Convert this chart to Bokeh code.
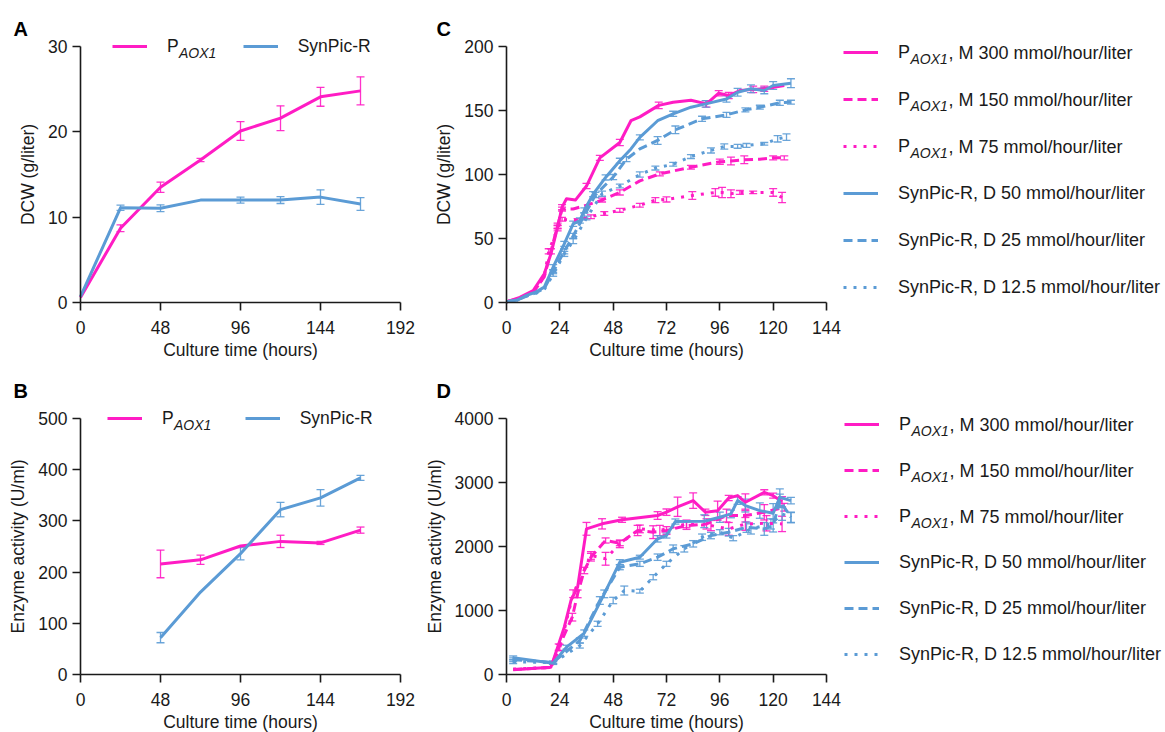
from bokeh.plotting import figure
from bokeh.models import (Range1d, Legend, LegendItem, Label, Whisker, TeeHead,
                          ColumnDataSource, FixedTicker)
from bokeh.layouts import row, column
from bokeh.embed import file_html
from bokeh.resources import INLINE

# ---------------- data ----------------
A_t = [0, 24, 48, 72, 96, 120, 144, 168]
A_paox1 = [0.6, 8.7, 13.5, 16.7, 20.1, 21.6, 24.1, 24.8]
A_paox1_err = [0, 0.4, 0.6, 0.2, 1.1, 1.45, 1.1, 1.65]
A_synpic = [0.7, 11.1, 11.05, 12.0, 12.0, 12.0, 12.35, 11.55]
A_synpic_err = [0, 0.3, 0.4, 0, 0.35, 0.4, 0.85, 0.75]

B_t = [48, 72, 96, 120, 144, 168]
B_paox1 = [216, 224, 251, 260, 257, 282]
B_paox1_err = [27, 9, 0, 12, 3, 6]
B_synpic = [72, 161, 236, 322, 345, 384]
B_synpic_err = [10, 0, 12, 14, 16, 5]

C_t_M300 = [0, 6, 12, 17, 20, 23, 25, 27, 31, 36, 42, 51, 56, 60, 68.5, 75, 83, 90, 95.5, 100, 105, 111, 116, 125]
C_M300 = [0.5, 4, 9.4, 22.4, 38, 59, 74.5, 81, 80, 91, 113, 125, 142, 145, 154, 156.5, 158, 155.2, 163.5, 161.7, 165.6, 166.5, 167, 169.5]
C_M300_err = [0, 0, 0, 0, 0, 1.5, 2, 0, 0, 2, 2, 2.5, 0, 0, 2.5, 0, 0, 2.5, 2, 2.5, 0, 2.5, 2, 0]

C_t_M150 = [0, 6, 12, 17, 20, 23, 25, 30, 36, 43, 51, 60, 69, 83, 96, 101, 107, 114, 120, 125]
C_M150 = [0.5, 3.5, 8, 20, 40, 60, 73, 73, 76, 80, 86, 95, 100.5, 105.7, 110, 110.5, 111.5, 112, 113, 113]
C_M150_err = [0, 0, 0, 0, 2, 2, 1.5, 0, 0, 1.5, 2, 0, 1.5, 1.5, 2, 3, 3, 0, 1.5, 1.5]

C_t_M75 = [0, 6, 12, 17, 19, 23, 25, 32, 38, 44, 51, 60, 67, 72, 83.6, 94, 97, 101, 105, 111, 120, 124]
C_M75 = [0.5, 3.5, 8, 20, 40, 58, 65, 64, 67, 69.5, 72, 76, 80, 80.5, 83.6, 86, 86, 85, 86, 86, 86, 82]
C_M75_err = [0, 0, 0, 0, 2, 2, 1.5, 1.5, 1.5, 1.5, 1.5, 1.5, 2, 2, 3, 3, 4, 3, 1.5, 1, 3, 4]

C_t_D50 = [0, 5, 9, 13, 17, 21, 26, 30, 33, 35, 39, 44.6, 51, 56, 60, 68, 75, 83, 89.6, 99, 104, 110, 116, 120, 128]
C_D50 = [0.5, 2, 5.5, 8, 12, 27.6, 45.8, 61.5, 64, 72, 84.6, 97.7, 110.7, 120, 129, 142, 147.4, 152.6, 155.2, 159, 164.3, 167, 165.6, 169.5, 171.3]
C_D50_err = [0, 0, 0, 0, 0, 2, 2, 2, 2, 2, 2, 2, 2, 0, 2, 0, 2, 0, 2.5, 2.5, 3, 3, 2.5, 3, 3.5]

C_t_D25 = [0, 5, 9, 13, 17, 21, 26, 30, 35, 40, 48, 54, 60, 68, 76, 88, 99, 107.5, 114, 123, 128]
C_D25 = [0.5, 2, 5, 7.5, 11, 24, 40, 52, 68, 84, 98, 112, 120, 126.6, 134.9, 143.5, 146.6, 150.5, 152.6, 156, 156.5]
C_D25_err = [0, 0, 0, 0, 0, 1.5, 2, 2, 2, 2, 2, 2, 0, 3, 3, 2, 2, 1.5, 1.5, 2, 1.5]

C_t_D12 = [0, 5, 9, 13, 17, 21, 26, 30, 36, 43, 51, 60, 67, 75, 83, 92, 98, 104, 108, 116, 122, 126]
C_D12 = [0.5, 2, 5, 7, 10, 22, 38, 48, 66, 85, 91, 100, 105, 108, 114, 118.8, 121.9, 122, 122.7, 124, 127.9, 129.2]
C_D12_err = [0, 0, 0, 0, 0, 1.5, 2, 2, 1.5, 2, 1.5, 2, 1.5, 1.5, 1.5, 2, 2, 1.5, 1.5, 1, 2.5, 2.5]

D_t_M300 = [3, 20, 22, 26, 29, 32, 36, 43, 52, 68, 72, 77, 84, 89.5, 95, 100, 104, 107.5, 116, 120, 124]
D_M300 = [75, 115, 320, 740, 1156, 1365, 2276, 2354, 2417, 2484, 2536, 2620, 2717, 2535, 2560, 2758, 2795, 2691, 2847, 2795, 2700]
D_M300_err = [0, 0, 0, 0, 0, 0, 100, 80, 40, 60, 50, 150, 120, 50, 150, 40, 0, 130, 40, 40, 80]

D_t_M150 = [3, 20, 23.5, 29.6, 32, 35, 38, 44.6, 51, 59, 66, 72, 81, 90, 99, 107.5, 116, 125]
D_M150 = [80, 110, 427, 896, 1260, 1625, 1833, 2094, 2052, 2250, 2224, 2250, 2327, 2353, 2483, 2483, 2535, 2613]
D_M150_err = [0, 0, 50, 60, 60, 50, 60, 40, 40, 80, 100, 60, 60, 80, 100, 100, 120, 60]

D_t_M75 = [3, 20, 24, 30, 38, 44.6, 51, 60, 69, 81, 92, 100, 107.5, 117, 124]
D_M75 = [85, 110, 420, 1262, 1860, 1808, 2042, 2275, 2250, 2353, 2327, 2275, 2353, 2363, 2353]
D_M75_err = [0, 0, 50, 60, 60, 100, 60, 60, 80, 60, 80, 100, 100, 120, 120]

D_t_D50 = [3, 21, 27, 35, 44, 51, 60, 68, 72, 76, 89, 96, 101, 104, 107.5, 114, 120, 123, 128]
D_D50 = [260, 177, 427, 646, 1260, 1755, 1833, 2120, 2172, 2390, 2395, 2457, 2509, 2717, 2639, 2561, 2519, 2769, 2717]
D_D50_err = [30, 20, 30, 50, 60, 40, 30, 50, 40, 40, 100, 80, 60, 60, 100, 120, 150, 130, 50]

D_t_D25 = [3, 21, 33, 42, 51, 60, 68, 75, 84, 92, 100, 108, 116, 120, 123, 128]
D_D25 = [230, 190, 531, 1156, 1677, 1729, 1833, 1964, 2042, 2171, 2223, 2301, 2275, 2327, 2717, 2457]
D_D25_err = [30, 20, 40, 60, 40, 40, 50, 60, 50, 50, 60, 80, 100, 100, 100, 80]

D_t_D12 = [3, 21, 33, 41, 48, 53, 60, 66, 72, 80, 88, 96, 102, 110, 119, 124, 128]
D_D12 = [200, 185, 453, 792, 1156, 1312, 1302, 1520, 1729, 1964, 2145, 2223, 2130, 2275, 2353, 2509, 2450]
D_D12_err = [30, 20, 40, 40, 50, 70, 30, 40, 40, 50, 50, 40, 40, 80, 80, 100, 80]

AB_x_ticks = [0, 48, 96, 144, 192]
A_y_ticks = [0, 10, 20, 30]
B_y_ticks = [0, 100, 200, 300, 400, 500]
CD_x_ticks = [0, 24, 48, 72, 96, 120, 144]
C_y_ticks = [0, 50, 100, 150, 200]
D_y_ticks = [0, 1000, 2000, 3000, 4000]

SUB = "AOX1"
M_labels = [", M 300 mmol/hour/liter", ", M 150 mmol/hour/liter", ", M 75 mmol/hour/liter"]
D_labels = ["SynPic-R, D 50 mmol/hour/liter", "SynPic-R, D 25 mmol/hour/liter",
            "SynPic-R, D 12.5 mmol/hour/liter"]

# ---------------- style ----------------
PINK = "#FF1CC4"
BLUE = "#5B9BD5"
INK = "#1a1a1a"
FONT = "Liberation Sans"
DASHES = ["solid", "9 5", "3 7"]


def make_fig(W, H, box, xdom, ydom, xt, yt, ylabel):
    # box = (left, top, right, bottom) of the axes box in figure pixels
    l, t, r, b = box
    sx = (r - l) / (xdom[1] - xdom[0])
    sy = (b - t) / (ydom[1] - ydom[0])
    xr = Range1d(xdom[0] - l / sx, xdom[0] + (W - l) / sx)
    yr = Range1d(ydom[0] - (H - b) / sy, ydom[1] + t / sy)
    p = figure(width=W, height=H, x_range=xr, y_range=yr,
               output_backend="svg", toolbar_location=None,
               min_border_left=0, min_border_right=0, min_border_top=0, min_border_bottom=0)
    p.outline_line_color = None
    p.grid.visible = False
    p.background_fill_color = "white"
    p.border_fill_color = "white"
    for ax in (p.xaxis[0], p.yaxis[0]):
        ax.axis_line_width = 1.6
        ax.axis_line_color = INK
        ax.major_tick_line_width = 1.6
        ax.major_tick_line_color = INK
        ax.major_tick_out = 8
        ax.major_tick_in = 0
        ax.minor_tick_line_color = None
        ax.major_label_text_font = FONT
        ax.major_label_text_font_size = "17.5px"
        ax.major_label_text_color = INK
        ax.axis_label_text_font = FONT
        ax.axis_label_text_font_size = "17.5px"
        ax.axis_label_text_font_style = "normal"
        ax.axis_label_text_color = INK
    p.xaxis.fixed_location = ydom[0]
    p.yaxis.fixed_location = xdom[0]
    p.xaxis.bounds = xdom
    p.yaxis.bounds = ydom
    p.xaxis.ticker = FixedTicker(ticks=xt)
    p.yaxis.ticker = FixedTicker(ticks=yt)
    p.xaxis.axis_label = "Culture time (hours)"
    p.yaxis.axis_label = ylabel
    p.yaxis.major_label_standoff = 5
    p.yaxis.axis_label_standoff = 7
    p.xaxis.major_label_standoff = 10
    p.xaxis.axis_label_standoff = 3
    return p


def series(p, t, v, err, color, dash, width=3):
    r = p.line(t, v, line_color=color, line_width=width, line_dash=dash, line_join="round")
    keep = [i for i, e in enumerate(err) if e > 0]
    src = ColumnDataSource(dict(t=[t[i] for i in keep],
                                lo=[v[i] - err[i] for i in keep],
                                hi=[v[i] + err[i] for i in keep]))
    w = Whisker(source=src, base="t", lower="lo", upper="hi", dimension="height",
                line_color=color, line_width=1.3, line_alpha=0.9,
                upper_head=TeeHead(size=8, line_color=color, line_width=1.3, line_alpha=0.9),
                lower_head=TeeHead(size=8, line_color=color, line_width=1.3, line_alpha=0.9))
    p.add_layout(w)
    return r


def text(p, s, x, y, size="17px", style="normal", baseline="middle"):
    p.add_layout(Label(x=x, y=y, x_units="screen", y_units="screen", text=s,
                       text_font=FONT, text_font_size=size, text_font_style=style,
                       text_color=INK, text_baseline=baseline, text_align="left"))


def letter(p, s, x, y):
    p.add_layout(Label(x=x, y=y, x_units="screen", y_units="screen", text=s,
                       text_font=FONT, text_font_size="20px", text_font_style="bold",
                       text_color="black", text_baseline="alphabetic", text_align="left"))


def hlegend(p, r1, r2, vx, vy, spacing):
    leg = Legend(items=[LegendItem(label="P", renderers=[r1]),
                        LegendItem(label="SynPic-R", renderers=[r2])],
                 location=(vx, vy), orientation="horizontal",
                 glyph_width=35, glyph_height=22, label_height=22, label_width=0,
                 label_standoff=20, spacing=spacing, padding=0, margin=0,
                 border_line_color=None, background_fill_alpha=0,
                 label_text_font=FONT, label_text_font_size="17.5px", label_text_color=INK)
    p.add_layout(leg)
    text(p, SUB, vx + 35 + 20 + 11.5, vy + 11 - 6.5, size="14px", style="italic")


def vlegend(p, rs, vx, vy, spacing, pitch):
    items = [LegendItem(label="P", renderers=[rs[i]]) for i in range(3)]
    items += [LegendItem(label=D_labels[i], renderers=[rs[3 + i]]) for i in range(3)]
    leg = Legend(items=items, location=(vx, vy), orientation="vertical",
                 glyph_width=35, glyph_height=22, label_height=22, label_width=0,
                 label_standoff=20, spacing=spacing, padding=0, margin=0,
                 border_line_color=None, background_fill_alpha=0,
                 label_text_font=FONT, label_text_font_size="18px", label_text_color=INK)
    p.add_layout(leg)
    tx = vx + 35 + 20
    top_center = vy + 6 * 22 + 5 * spacing - 11
    for i in range(3):
        yc = top_center - pitch * i
        text(p, SUB, tx + 12, yc - 6, size="14px", style="italic")
        text(p, M_labels[i], tx + 50, yc, size="18px")


# ---------------- panel A ----------------
pA = make_fig(420, 368, (80, 46, 400, 302), (0, 192), (0, 30), AB_x_ticks, A_y_ticks,
              "DCW (g/liter)")
rA1 = series(pA, A_t, A_paox1, A_paox1_err, PINK, "solid")
rA2 = series(pA, A_t, A_synpic, A_synpic_err, BLUE, "solid")
hlegend(pA, rA1, rA2, 112, 311, 64)
letter(pA, "A", 13, 340)

# ---------------- panel B ----------------
pB = make_fig(420, 364, (80, 50, 400, 306), (0, 192), (0, 500), AB_x_ticks, B_y_ticks,
              "Enzyme activity (U/ml)")
rB1 = series(pB, B_t, B_paox1, B_paox1_err, PINK, "solid")
rB2 = series(pB, B_t, B_synpic, B_synpic_err, BLUE, "solid")
hlegend(pB, rB1, rB2, 107, 303, 71)
letter(pB, "B", 13, 342)

# ---------------- panel C ----------------
pC = make_fig(745, 368, (86, 46, 406, 302), (0, 144), (0, 200), CD_x_ticks, C_y_ticks,
              "DCW (g/liter)")
rC = [
    series(pC, C_t_M300, C_M300, C_M300_err, PINK, DASHES[0]),
    series(pC, C_t_M150, C_M150, C_M150_err, PINK, DASHES[1]),
    series(pC, C_t_M75, C_M75, C_M75_err, PINK, DASHES[2]),
    series(pC, C_t_D50, C_D50, C_D50_err, BLUE, DASHES[0]),
    series(pC, C_t_D25, C_D25, C_D25_err, BLUE, DASHES[1]),
    series(pC, C_t_D12, C_D12, C_D12_err, BLUE, DASHES[2]),
]
vlegend(pC, rC, 423, 70, 25, 47)
letter(pC, "C", 16, 340)

# ---------------- panel D ----------------
pD = make_fig(745, 364, (86, 50, 406, 306), (0, 144), (0, 4000), CD_x_ticks, D_y_ticks,
              "Enzyme activity (U/ml)")
rD = [
    series(pD, D_t_M300, D_M300, D_M300_err, PINK, DASHES[0]),
    series(pD, D_t_M150, D_M150, D_M150_err, PINK, DASHES[1]),
    series(pD, D_t_M75, D_M75, D_M75_err, PINK, DASHES[2]),
    series(pD, D_t_D50, D_D50, D_D50_err, BLUE, DASHES[0]),
    series(pD, D_t_D25, D_D25, D_D25_err, BLUE, DASHES[1]),
    series(pD, D_t_D12, D_D12, D_D12_err, BLUE, DASHES[2]),
]
vlegend(pD, rD, 424, 67, 24, 46)
letter(pD, "D", 16, 342)

layout = column(row(pA, pC), row(pB, pD))
open("out.html", "w").write(file_html(layout, INLINE))
